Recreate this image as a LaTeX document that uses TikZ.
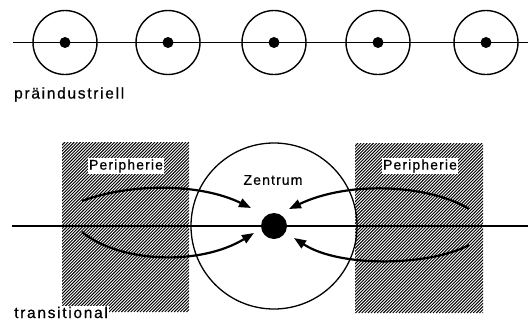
\documentclass[tikz,border=0pt]{standalone}
\usepackage{fontspec}
\setmainfont{Liberation Sans}
\newfontfamily\capfont{Liberation Sans}[LetterSpace=11,FakeBold=0.6]
\newfontfamily\inlfont{Liberation Sans}[LetterSpace=8,FakeBold=0.6]
\usetikzlibrary{arrows.meta}
\tikzset{
  ring/.style={circle, draw, line width=1.4pt, minimum size=64pt, inner sep=0pt},
  dotnode/.style={circle, fill, inner sep=0pt, minimum size=11pt},
  bigdot/.style={circle, fill, inner sep=0pt, minimum size=26pt},
  zring/.style={circle, draw, line width=1.3pt, minimum size=166pt, inner sep=0pt},
  axis/.style={line width=1.3pt},
  flow/.style={line width=2.2pt, -{Triangle[length=12pt,width=9pt]}},
  caplbl/.style={font=\capfont\fontsize{15.5pt}{17pt}\selectfont, inner sep=1pt},
  lbl/.style={font=\inlfont\fontsize{14pt}{16pt}\selectfont, inner sep=1pt},
  wlbl/.style={lbl, fill=white},
  hatchline/.style={line width=0.95pt}
}
\begin{document}
\begin{tikzpicture}[x=1pt,y=-1pt]
\useasboundingbox (0,0) rectangle (528,322);
% top row
\coordinate (t0) at (13,42.5);
\coordinate (t1) at (528,42.5);
\draw[axis] (t0) -- (t1);
\foreach \i/\x in {1/65,2/168,3/274,4/378,5/486}{
  \node[ring] (c\i) at (\x,42.5) {};
  \node[dotnode] (d\i) at (\x,42.5) {};
}
\node[caplbl, anchor=base west] (pre) at (13,98.5) {präindustriell};
% hatched peripheries
\begin{scope}
  \clip (62,142) rectangle (189,312);
  \foreach \k in {0,3.1,...,320}{
    \draw[hatchline] (62+\k-170,312) -- (62+\k,142);
  }
\end{scope}
\begin{scope}
  \clip (355,143) rectangle (483,313);
  \foreach \k in {0,3.1,...,320}{
    \draw[hatchline] (355+\k-170,313) -- (355+\k,143);
  }
\end{scope}
% axis
\coordinate (b0) at (12,226);
\coordinate (b1) at (528,226);
\draw[axis] (b0) -- (b1);
\node[zring] (z) at (274,226) {};
\node[bigdot] (zc) at (274,226) {};
% arrows
\coordinate (la) at (82,201);
\coordinate (lat) at (251,208);
\coordinate (lb) at (82,232);
\coordinate (lbt) at (254,233);
\coordinate (ra) at (469,209);
\coordinate (rat) at (289,209);
\coordinate (rb) at (469,245);
\coordinate (rbt) at (294,238);
\draw[flow] (la) .. controls (130,183) and (200,183) .. (lat);
\draw[flow] (lb) .. controls (120,263) and (200,266) .. (lbt);
\draw[flow] (ra) .. controls (430,185) and (350,180) .. (rat);
\draw[flow] (rb) .. controls (430,266) and (340,268) .. (rbt);
% labels
\node[wlbl] (pl) at (126,166) {Peripherie};
\node[wlbl] (pr) at (420,166) {Peripherie};
\node[lbl] (zt) at (273,180) {Zentrum};
\node[caplbl, anchor=base west, fill=white] (tr) at (13,318) {transitional};
\end{tikzpicture}
\end{document}
